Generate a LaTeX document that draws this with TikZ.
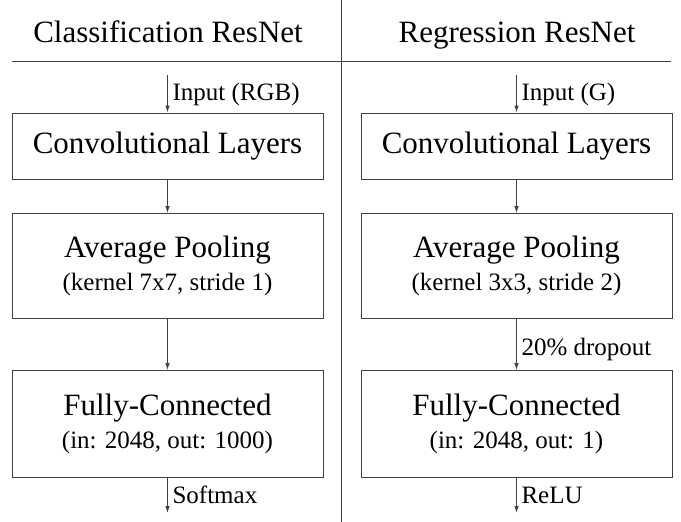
\documentclass[tikz,border=0pt]{standalone}
\usepackage{fontspec}
\setmainfont{Liberation Serif}
\usepackage{tikz}
\usetikzlibrary{arrows.meta}
\definecolor{linegray}{rgb}{0.25, 0.25, 0.25}

\tikzset{
    layer/.style={draw=linegray, line width=0.9pt, minimum width=311pt, align=center,
        font=\fontsize{31}{34}\selectfont},
    flow/.style={draw=linegray, line width=0.9pt, -{Latex[length=7pt, width=4.5pt]}},
    flowlabel/.style={anchor=base west, font=\fontsize{25}{28}\selectfont},
    title/.style={anchor=base, font=\fontsize{31}{34}\selectfont}
}
\newcommand{\sub}[1]{\\[-1pt]{\fontsize{25}{28}\selectfont #1}}

\begin{document}
\begin{tikzpicture}[x=1pt, y=-1pt]
    \useasboundingbox (0, 0) rectangle (681, 522);

    % headings
    \node [title] (ctitle) at (168, 42) {Classification ResNet};
    \node [title] (rtitle) at (517, 42) {Regression ResNet};
    \draw [linegray, line width=0.9pt] (341, 0) -- (341, 522);
    \draw [linegray, line width=0.9pt] (12, 61) -- (671, 61);

    % classification column
    \node [layer, minimum height=66pt] (cconv) at (167.5, 146) {Convolutional Layers};
    \node [layer, minimum height=105pt] (cpool) at (167.5, 266) {Average Pooling\sub{(kernel 7x7, stride 1)}};
    \node [layer, minimum height=107pt] (cfc) at (167.5, 424) {Fully-Connected\sub{(in: 2048, out: 1000)}};
    \coordinate (cin) at (167.5, 75);
    \coordinate (cout) at (167.5, 513);

    \draw [flow] (cin) -- (cconv);
    \node [flowlabel] (cinlabel) at (169, 100) {Input (RGB)};
    \draw [flow] (cconv) -- (cpool);
    \draw [flow] (cpool) -- (cfc);
    \draw [flow] (cfc) -- (cout);
    \node [flowlabel] (coutlabel) at (169, 503) {Softmax};

    % regression column
    \node [layer, minimum height=66pt] (rconv) at (516.5, 146) {Convolutional Layers};
    \node [layer, minimum height=105pt] (rpool) at (516.5, 266) {Average Pooling\sub{(kernel 3x3, stride 2)}};
    \node [layer, minimum height=107pt] (rfc) at (516.5, 424) {Fully-Connected\sub{(in: 2048, out: 1)}};
    \coordinate (rin) at (516.5, 75);
    \coordinate (rout) at (516.5, 513);

    \draw [flow] (rin) -- (rconv);
    \node [flowlabel] (rinlabel) at (518, 100) {Input (G)};
    \draw [flow] (rconv) -- (rpool);
    \draw [flow] (rpool) -- (rfc);
    \node [flowlabel] (droplabel) at (518, 355) {20\% dropout};
    \draw [flow] (rfc) -- (rout);
    \node [flowlabel] (routlabel) at (518, 503) {ReLU};
\end{tikzpicture}
\end{document}
